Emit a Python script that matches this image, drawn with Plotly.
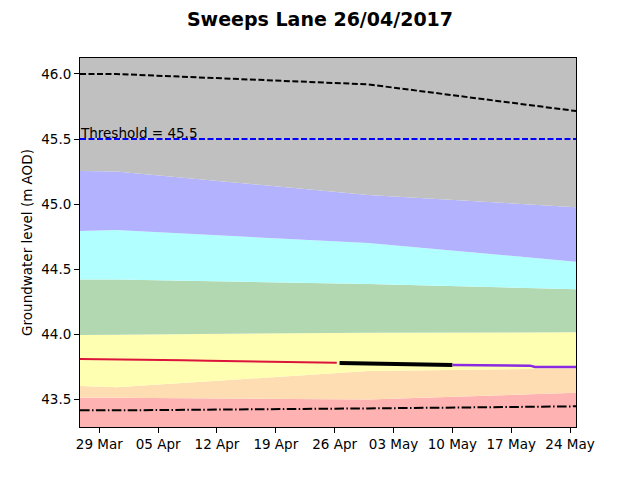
import plotly.graph_objects as go

# ---- data ----
band_dates = ["2017-03-26 17:00", "2017-03-31 00:00", "2017-04-30 00:00", "2017-05-24 17:00"]
band_floor = [43.2, 43.2, 43.2, 43.2]
red_top = [43.51, 43.51, 43.496, 43.548]
orange_top = [43.60, 43.59, 43.715, 43.735]
yellow_top = [43.992, 43.995, 44.01, 44.013]
green_top = [44.42, 44.42, 44.385, 44.344]
cyan_top = [44.792, 44.80, 44.70, 44.556]
blue_top = [45.254, 45.25, 45.07, 44.975]
grey_top = [46.3, 46.3, 46.3, 46.3]

upper_line = [46.0, 46.0, 45.92, 45.715]
lower_line = [43.413, 43.413, 43.428, 43.444]

obs_dates = ["2017-03-26 17:00", "2017-03-29 00:00", "2017-04-01 06:00", "2017-04-05 05:00",
             "2017-04-08 00:00", "2017-04-11 00:00", "2017-04-14 00:00", "2017-04-17 00:00",
             "2017-04-21 00:00", "2017-04-24 00:00", "2017-04-26 06:00"]
obs_vals = [43.808, 43.807, 43.805, 43.800, 43.798, 43.795, 43.791, 43.787, 43.782, 43.780, 43.779]

fc_dates = ["2017-04-26 14:00", "2017-05-10 00:00"]
fc_vals = [43.777, 43.762]

pu_dates = ["2017-05-10 00:00", "2017-05-13 10:00", "2017-05-14 00:00", "2017-05-19 06:00",
            "2017-05-19 20:00", "2017-05-24 17:00"]
pu_vals = [43.762, 43.762, 43.757, 43.757, 43.746, 43.746]

threshold = 45.5
title_text = "Sweeps Lane 26/04/2017"
y_label = "Groundwater level (m AOD)"

fig = go.Figure()

bands = [
    (band_floor, None),
    (red_top, "#FFB2B2"),
    (orange_top, "#FFDDB3"),
    (yellow_top, "#FFFFB2"),
    (green_top, "#B2D8B2"),
    (cyan_top, "#B2FFFF"),
    (blue_top, "#B2B2FF"),
    (grey_top, "#C0C0C0"),
]
for vals, col in bands:
    if col is None:
        fig.add_trace(go.Scatter(x=band_dates, y=vals, mode="lines", line=dict(width=0),
                                 showlegend=False, hoverinfo="skip"))
    else:
        fig.add_trace(go.Scatter(x=band_dates, y=vals, mode="lines", line=dict(width=0),
                                 fill="tonexty", fillcolor=col, showlegend=False, hoverinfo="skip"))

fig.add_trace(go.Scatter(x=band_dates, y=upper_line, mode="lines",
                         line=dict(color="black", width=2, dash="6px,2.5px"), showlegend=False))
fig.add_trace(go.Scatter(x=band_dates, y=lower_line, mode="lines",
                         line=dict(color="black", width=2, dash="9.6px,2.4px,1.5px,2.4px"), showlegend=False))
fig.add_trace(go.Scatter(x=[band_dates[0], band_dates[-1]], y=[threshold, threshold], mode="lines",
                         line=dict(color="blue", width=2, dash="6px,2.5px"), showlegend=False))
fig.add_trace(go.Scatter(x=obs_dates, y=obs_vals, mode="lines",
                         line=dict(color="crimson", width=2), showlegend=False))
fig.add_trace(go.Scatter(x=fc_dates, y=fc_vals, mode="lines",
                         line=dict(color="black", width=4), showlegend=False))
fig.add_trace(go.Scatter(x=pu_dates, y=pu_vals, mode="lines",
                         line=dict(color="#8A2BE2", width=2.5), showlegend=False))

fig.add_annotation(x=0, xref="paper", y=threshold, yref="y", text=f"Threshold = {threshold}",
                   showarrow=False, xanchor="left", yanchor="bottom", yshift=-3, xshift=-1,
                   borderpad=0,
                   font=dict(family="DejaVu Sans", size=13.5, color="black"))

tick_vals = ["2017-03-29", "2017-04-05", "2017-04-12", "2017-04-19", "2017-04-26",
             "2017-05-03", "2017-05-10", "2017-05-17", "2017-05-24"]

fig.update_layout(
    width=640, height=480,
    margin=dict(l=80, r=64, t=58, b=53),
    paper_bgcolor="white", plot_bgcolor="white",
    font=dict(family="DejaVu Sans", size=13.5, color="black"),
    title=dict(text=f"<b>{title_text}</b>", x=0.5, xanchor="center", y=1 - 19 / 480, yanchor="middle",
               font=dict(family="DejaVu Sans", size=19, color="black")),
    xaxis=dict(type="date", range=["2017-03-26 17:00", "2017-05-24 17:00"],
               tickvals=tick_vals, tickformat="%d %b",
               showgrid=False, zeroline=False, showline=True, linecolor="black", linewidth=1,
               mirror=True, ticks="outside", ticklen=5, tickcolor="black",
               tickfont=dict(size=13.5)),
    yaxis=dict(range=[43.285, 46.123], tickvals=[43.5, 44.0, 44.5, 45.0, 45.5, 46.0],
               tickformat=".1f", showgrid=False, zeroline=False, showline=True,
               linecolor="black", linewidth=1, mirror=True, ticks="outside", ticklen=5,
               tickcolor="black", tickfont=dict(size=13.5),
               title=dict(text=y_label, font=dict(size=13.5), standoff=5)),
)

fig.write_html("out.html")
